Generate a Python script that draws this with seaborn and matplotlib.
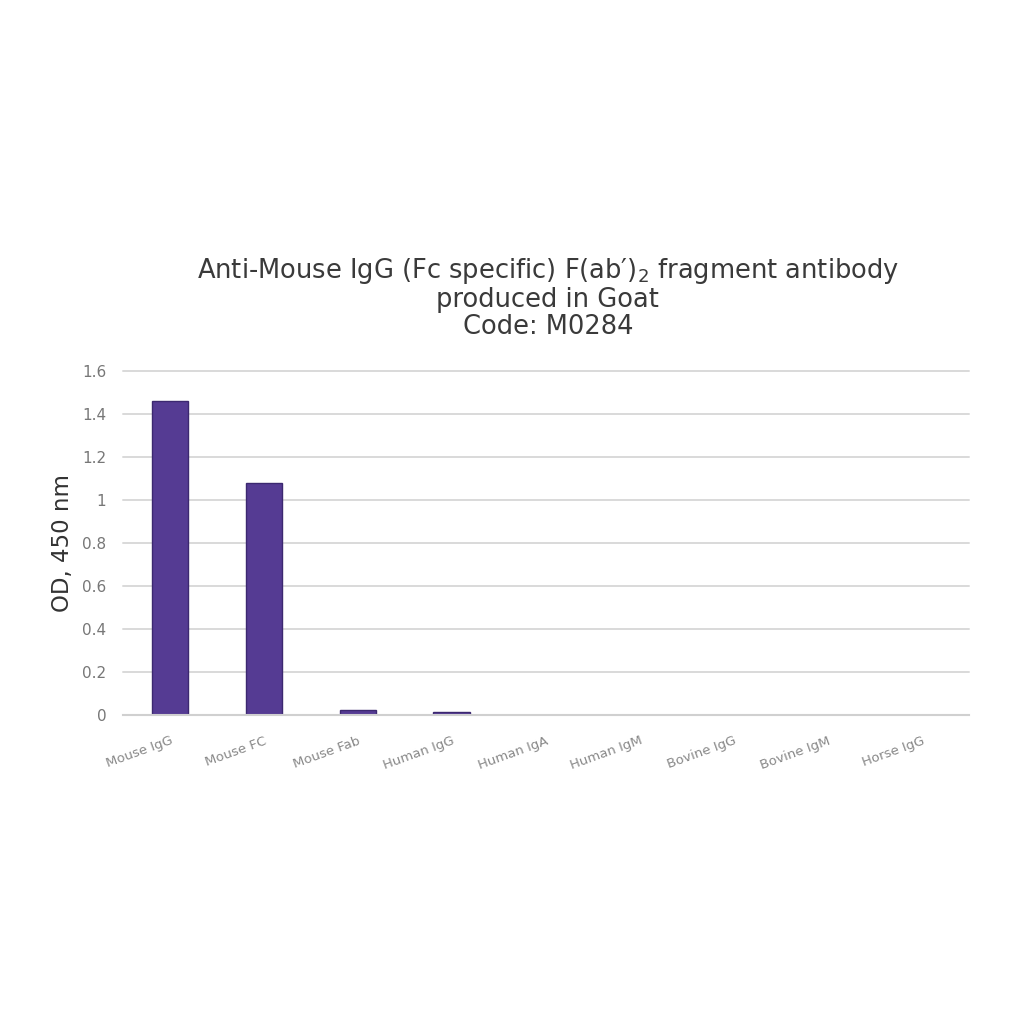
import numpy as np
import pandas as pd
import seaborn as sns
import matplotlib.pyplot as plt

sns.set_theme(style="white")

samples = ["Mouse IgG", "Mouse FC", "Mouse Fab", "Human IgG", "Human IgA",
           "Human IgM", "Bovine IgG", "Bovine IgM", "Horse IgG"]
od_450 = [1.46, 1.08, 0.02, 0.015, 0.0, 0.0, 0.0, 0.0, 0.0]
y_ticks = [0, 0.2, 0.4, 0.6, 0.8, 1, 1.2, 1.4, 1.6]
y_tick_labels = ["0", "0.2", "0.4", "0.6", "0.8", "1", "1.2", "1.4", "1.6"]

df = pd.DataFrame({"sample": samples, "od": od_450})

fig = plt.figure(figsize=(10.24, 10.24), dpi=100)
ax = fig.add_axes([0.12, 0.302, 0.826, 0.336])

sns.barplot(data=df, x="sample", y="od", color="#553b93", saturation=1,
            width=0.39, edgecolor="#3c2870", linewidth=1, ax=ax)

ax.set_ylim(0, 1.6)
ax.set_xlim(-0.5, 8.5)
ax.set_yticks(y_ticks)
ax.set_yticklabels(y_tick_labels, fontsize=11, color="#777777")
ax.yaxis.grid(True, color="#d9d9d9", linewidth=1.4)
for gl in ax.get_ygridlines():
    gl.set_clip_on(False)
ax.set_axisbelow(True)
for side in ["top", "right", "left"]:
    ax.spines[side].set_visible(False)
ax.spines["bottom"].set_color("#d0d0d0")
ax.spines["bottom"].set_linewidth(1.5)
ax.tick_params(axis="y", length=0, pad=12)
ax.tick_params(axis="x", length=0, pad=14)
plt.setp(ax.get_xticklabels(), rotation=20, ha="right", fontsize=9.5,
         color="#888888", rotation_mode="anchor")

ax.set_xlabel("")
ax.set_ylabel("OD, 450 nm", fontsize=16.5, color="#333333", labelpad=6)

fig.text(0.535, 0.709,
         "Anti-Mouse IgG (Fc specific) F(ab\u2032)$_2$ fragment antibody\n"
         "produced in Goat\nCode: M0284",
         ha="center", va="center", fontsize=18.5, color="#3a3a3a",
         linespacing=1.05)

fig.savefig("out.png", dpi=100, facecolor="white")
